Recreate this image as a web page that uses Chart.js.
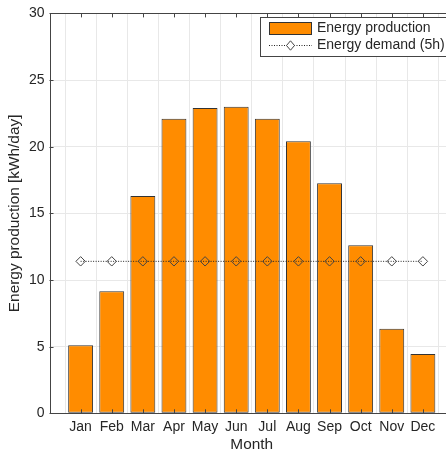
<!DOCTYPE html>
<html>
<head>
<meta charset="utf-8">
<script src="https://cdn.jsdelivr.net/npm/chart.js@4/dist/chart.umd.min.js"></script>
<style>
  html, body { margin: 0; padding: 0; background: #fff; overflow: hidden; }
  #wrap { width: 460px; height: 452px; position: relative; }
</style>
</head>
<body>
<div id="wrap"><canvas id="c"></canvas></div>
<script>
const months = ['Jan','Feb','Mar','Apr','May','Jun','Jul','Aug','Sep','Oct','Nov','Dec'];
const production = [5.1, 9.15, 16.3, 22.1, 22.9, 23.0, 22.1, 20.4, 17.25, 12.6, 6.35, 4.45];
const demand = [11.4, 11.4, 11.4, 11.4, 11.4, 11.4, 11.4, 11.4, 11.4, 11.4, 11.4, 11.4];
const yTicks = [0, 5, 10, 15, 20, 25, 30];
const seriesLabels = ['Energy production', 'Energy demand (5h)'];
const xTitle = 'Month';
const yTitle = 'Energy production [kWh/day]';

const FONT = 'Liberation Sans, Arial, Helvetica, sans-serif';
const TXT = '#262626';
const AXIS = '#444444';
const GRID = '#e8e8e8';

const frameTicks = {
  id: 'frameTicks',
  afterDatasetsDraw(chart) {
    const {ctx, chartArea: a, scales: {x, y}} = chart;
    ctx.save();
    ctx.strokeStyle = AXIS;
    ctx.lineWidth = 1;
    ctx.beginPath();
    const L = 4;
    for (let i = 1; i <= months.length; i++) {
      const px = Math.round(x.getPixelForValue(i)) + 0.5;
      ctx.moveTo(px, a.top); ctx.lineTo(px, a.top + L);
      ctx.moveTo(px, a.bottom); ctx.lineTo(px, a.bottom - L);
    }
    yTicks.forEach(v => {
      const py = Math.round(y.getPixelForValue(v)) + 0.5;
      ctx.moveTo(a.left, py); ctx.lineTo(a.left + L, py);
      ctx.moveTo(a.right, py); ctx.lineTo(a.right - L, py);
    });
    ctx.stroke();
    ctx.strokeRect(Math.round(a.left) + 0.5, Math.round(a.top) + 0.5, Math.round(a.right - a.left), Math.round(a.bottom - a.top));
    ctx.restore();
  }
};

const boxLegend = {
  id: 'boxLegend',
  afterDraw(chart) {
    const {ctx} = chart;
    const ds = chart.data.datasets;
    ctx.save();
    const bx = 260.5, by = 17.5, bw = 210, bh = 39;
    ctx.fillStyle = '#fff';
    ctx.fillRect(bx, by, bw, bh);
    ctx.strokeStyle = AXIS;
    ctx.lineWidth = 1;
    ctx.strokeRect(bx, by, bw, bh);
    // row 1: bar patch
    ctx.fillStyle = ds[0].backgroundColor;
    ctx.fillRect(269.5, 22.5, 42, 12);
    ctx.strokeStyle = ds[0].borderColor;
    ctx.strokeRect(269.5, 22.5, 42, 12);
    // row 2: dotted line + diamond
    ctx.strokeStyle = ds[1].borderColor;
    ctx.setLineDash(ds[1].borderDash);
    ctx.beginPath();
    ctx.moveTo(269, 45.5); ctx.lineTo(312, 45.5);
    ctx.stroke();
    ctx.setLineDash([]);
    ctx.strokeStyle = ds[1].pointBorderColor;
    ctx.fillStyle = '#fff';
    const cx = 290.5, cy = 45.5, r = 4.7;
    ctx.beginPath();
    ctx.moveTo(cx, cy - r); ctx.lineTo(cx + r * 0.85, cy); ctx.lineTo(cx, cy + r); ctx.lineTo(cx - r * 0.85, cy); ctx.closePath();
    ctx.fill(); ctx.stroke();
    ctx.fillStyle = TXT;
    ctx.font = '14px ' + FONT;
    ctx.textBaseline = 'middle';
    ctx.textAlign = 'left';
    ctx.fillText(ds[0].label, 317, 28.5);
    ctx.fillText(ds[1].label, 317, 45.5);
    ctx.restore();
  }
};

new Chart(document.getElementById('c'), {
  data: {
    datasets: [
      {
        type: 'bar',
        label: seriesLabels[0],
        data: months.map((m, i) => ({x: i + 1, y: production[i]})),
        backgroundColor: '#ff8c00',
        borderColor: '#333333',
        borderWidth: 1,
        borderSkipped: false,
        barPercentage: 0.8,
        categoryPercentage: 1,
        order: 2
      },
      {
        type: 'line',
        label: seriesLabels[1],
        data: months.map((m, i) => ({x: i + 1, y: demand[i]})),
        borderColor: '#222222',
        borderWidth: 1,
        borderDash: [1, 1.5],
        pointStyle: 'rectRot',
        pointRadius: 4.7,
        pointBorderColor: '#444444',
        pointBorderWidth: 1,
        pointBackgroundColor: 'rgba(0,0,0,0)',
        fill: false,
        order: 1
      }
    ]
  },
  options: {
    responsive: true,
    maintainAspectRatio: false,
    animation: false,
    layout: { padding: { left: 0, right: 6, top: 12, bottom: 0 } },
    plugins: { legend: { display: false }, tooltip: { enabled: false } },
    scales: {
      x: {
        type: 'linear',
        min: 0, max: months.length + 1,
        offset: false,
        afterFit(s) { s.height = 38.7; },
        afterBuildTicks(s) { s.ticks = Array.from({length: months.length + 2}, (_, i) => ({value: i})); },
        ticks: {
          stepSize: 1,
          autoSkip: false,
          maxRotation: 0,
          padding: 5,
          color: TXT,
          font: { family: FONT, size: 14 },
          callback: v => months[v - 1] || ''
        },
        grid: { color: GRID, drawTicks: false, lineWidth: 1 },
        border: { display: false },
        title: { display: true, text: xTitle, color: TXT, font: { family: FONT, size: 15.4, lineHeight: 1 }, padding: { top: 0, bottom: 0 } }
      },
      y: {
        min: 0, max: 30,
        afterFit(s) { s.width = 49.5; },
        afterBuildTicks(s) { s.ticks = yTicks.map(v => ({value: v})); },
        ticks: { padding: 5, color: TXT, font: { family: FONT, size: 14 } },
        grid: { color: GRID, drawTicks: false, lineWidth: 1 },
        border: { display: false },
        title: { display: true, text: yTitle, color: TXT, font: { family: FONT, size: 15.4, lineHeight: 1 }, padding: { top: 7, bottom: 0 } }
      }
    }
  },
  plugins: [frameTicks, boxLegend]
});
</script>
</body>
</html>
